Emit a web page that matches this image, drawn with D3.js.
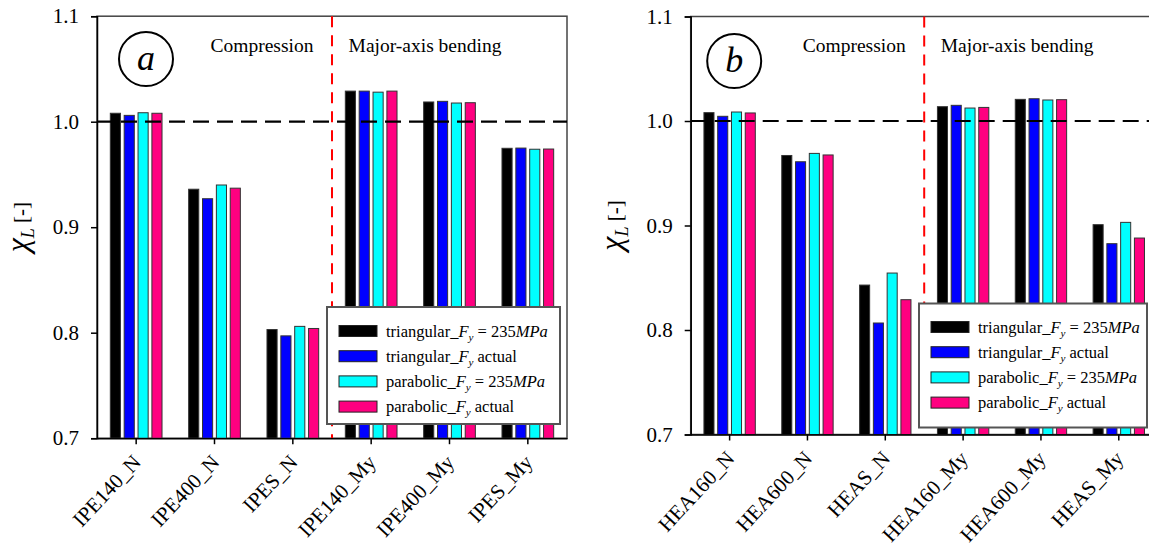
<!DOCTYPE html>
<html>
<head>
<meta charset="utf-8">
<script src="https://cdn.jsdelivr.net/npm/d3@7"></script>
<style>
  body { margin: 0; background: #fff; }
  svg { display: block; font-family: "Liberation Serif", "Times New Roman", serif; }
  .axis path, .axis line { stroke: #000; stroke-width: 1.5; }
  .axis text { font-family: "Liberation Serif", "Times New Roman", serif; font-size: 21px; fill: #000; }
</style>
</head>
<body>
<svg id="chart" width="1149" height="549"></svg>
<script>
// chart values
let seriesKeys = ['triTheo', 'triAct', 'parTheo', 'parAct']
let seriesColors = ['#000000', '#0000ff', '#00ffff', '#ff0080']
let legendPrefix = ['triangular_', 'triangular_', 'parabolic_', 'parabolic_']
let legendSuffix = [' = 235', ' actual', ' = 235', ' actual']
let legendUnit = ['MPa', '', 'MPa', '']

let yTicks = [0.7, 0.8, 0.9, 1.0, 1.1]

let categoriesA = ['IPE140_N', 'IPE400_N', 'IPES_N', 'IPE140_My', 'IPE400_My', 'IPES_My']
let triTheoA = [1.008, 0.936, 0.803, 1.029, 1.0187, 0.9748]
let triActA = [1.006, 0.927, 0.797, 1.029, 1.0193, 0.975]
let parTheoA = [1.0085, 0.940, 0.806, 1.028, 1.0177, 0.9739]
let parActA = [1.008, 0.937, 0.804, 1.029, 1.018, 0.9741]

let categoriesB = ['HEA160_N', 'HEA600_N', 'HEAS_N', 'HEA160_My', 'HEA600_My', 'HEAS_My']
let triTheoB = [1.008, 0.967, 0.843, 1.0137, 1.0207, 0.9008]
let triActB = [1.0045, 0.961, 0.8067, 1.015, 1.0213, 0.8826]
let parTheoB = [1.0086, 0.969, 0.8545, 1.0124, 1.0201, 0.903]
let parActB = [1.0077, 0.9675, 0.829, 1.013, 1.0204, 0.888]

let svg = d3.select('#chart')

function buildRows(categories, lists) {
    return categories.map((c, i) => {
        let row = { cat: c }
        seriesKeys.forEach((k, j) => { row[k] = lists[j][i] })
        return row
    })
}

let panels = [
    { tag: 'a', categories: categoriesA, rows: buildRows(categoriesA, [triTheoA, triActA, parTheoA, parActA]),
      left: 97, right: 567, top: 16.2, bottom: 438.2, circleDx: 49, circleY: 59,
      legend: { x: 327, y: 307, w: 233, h: 117, row0: 331 } },
    { tag: 'b', categories: categoriesB, rows: buildRows(categoriesB, [triTheoB, triActB, parTheoB, parActB]),
      left: 690.7, right: 1157.7, top: 16.5, bottom: 434.5, circleDx: 43.5, circleY: 61,
      legend: { x: 919, y: 303.5, w: 228, h: 124, row0: 327 } }
]

panels.forEach(p => {
    let g = svg.append('g')

    let x0 = d3.scaleBand()
        .domain(p.categories)
        .range([p.left, p.right])
        .paddingInner(0.34)
        .paddingOuter(0.17)

    let x1 = d3.scaleBand()
        .domain(seriesKeys)
        .range([0, x0.bandwidth()])
        .paddingInner(0.27)

    let y = d3.scaleLinear()
        .domain([0.7, 1.1])
        .range([p.bottom, p.top])

    // frame
    g.append('rect')
        .attr('x', p.left).attr('y', p.top)
        .attr('width', p.right - p.left).attr('height', p.bottom - p.top)
        .attr('fill', 'none').attr('stroke', '#444').attr('stroke-width', 1.5)

    // bars
    g.append('g').selectAll('g')
        .data(p.rows)
        .join('g')
        .attr('transform', d => `translate(${x0(d.cat)},0)`)
        .selectAll('rect')
        .data(d => seriesKeys.map((k, j) => ({ key: k, value: d[k], color: seriesColors[j] })))
        .join('rect')
        .attr('x', d => x1(d.key))
        .attr('y', d => y(d.value))
        .attr('width', x1.bandwidth())
        .attr('height', d => p.bottom - y(d.value))
        .attr('fill', d => d.color)
        .attr('stroke', '#333')
        .attr('stroke-width', 1)

    // reference line at 1.0
    g.append('line')
        .attr('x1', p.left).attr('x2', p.right)
        .attr('y1', y(1.0)).attr('y2', y(1.0))
        .attr('stroke', '#000').attr('stroke-width', 2.2)
        .attr('stroke-dasharray', '16,8')

    // split between compression and bending
    let splitX = (x0(p.categories[2]) + x0.bandwidth() + x0(p.categories[3])) / 2
    g.append('line')
        .attr('x1', splitX).attr('x2', splitX)
        .attr('y1', p.top).attr('y2', p.bottom)
        .attr('stroke', '#ff0000').attr('stroke-width', 2)
        .attr('stroke-dasharray', '11,8')

    g.append('text')
        .attr('x', splitX - 70).attr('y', 52)
        .attr('text-anchor', 'middle').attr('font-size', 19.5)
        .text('Compression')
    g.append('text')
        .attr('x', splitX + 93).attr('y', 52)
        .attr('text-anchor', 'middle').attr('font-size', 19.5)
        .text('Major-axis bending')

    // panel tag
    g.append('circle')
        .attr('cx', p.left + p.circleDx).attr('cy', p.circleY).attr('r', 27)
        .attr('fill', 'none').attr('stroke', '#000').attr('stroke-width', 2)
    g.append('text')
        .attr('x', p.left + p.circleDx).attr('y', p.circleY + 11)
        .attr('text-anchor', 'middle').attr('font-size', 36).attr('font-style', 'italic')
        .text(p.tag)

    // axes
    g.append('g')
        .attr('class', 'axis')
        .attr('transform', `translate(${p.left},0)`)
        .call(d3.axisLeft(y).tickValues(yTicks).tickFormat(d3.format('.1f')).tickSize(6).tickPadding(12))

    let xAxis = g.append('g')
        .attr('class', 'axis')
        .attr('transform', `translate(0,${p.bottom})`)
        .call(d3.axisBottom(x0).tickSize(6).tickSizeOuter(0))
    xAxis.selectAll('text')
        .attr('text-anchor', 'end')
        .attr('x', 0).attr('y', 0)
        .attr('dy', null)
        .style('font-size', '21px')
        .attr('transform', 'translate(6,25) rotate(-47)')

    // y label
    let yl = g.append('text')
        .attr('transform', `translate(${p.left - 69},${(p.top + p.bottom) / 2}) rotate(-90)`)
        .attr('text-anchor', 'middle')
        .attr('font-size', 32)
    yl.append('tspan').attr('font-style', 'italic').text('χ')
    yl.append('tspan').attr('font-style', 'italic').attr('font-size', 18).attr('dy', 6).text('L')
    yl.append('tspan').attr('font-size', 21).attr('dy', -6).text(' [-]')

    // legend
    let L = p.legend
    let lg = g.append('g')
    lg.append('rect')
        .attr('x', L.x).attr('y', L.y).attr('width', L.w).attr('height', L.h)
        .attr('fill', '#fff').attr('stroke', '#555').attr('stroke-width', 2)
    seriesKeys.forEach((k, j) => {
        let ry = L.row0 + j * 25.2
        lg.append('rect')
            .attr('x', L.x + 12).attr('y', ry - 5.5).attr('width', 38).attr('height', 11)
            .attr('fill', seriesColors[j]).attr('stroke', '#222').attr('stroke-width', 1)
        let t = lg.append('text')
            .attr('x', L.x + 59).attr('y', ry + 5.5)
            .attr('font-size', 16.5)
        t.append('tspan').text(legendPrefix[j])
        t.append('tspan').attr('font-style', 'italic').text('F')
        t.append('tspan').attr('font-style', 'italic').attr('font-size', 11).attr('dy', 4).text('y')
        t.append('tspan').attr('dy', -4).text(legendSuffix[j])
        if (legendUnit[j]) {
            t.append('tspan').attr('font-style', 'italic').text(legendUnit[j])
        }
    })
})
</script>
</body>
</html>
